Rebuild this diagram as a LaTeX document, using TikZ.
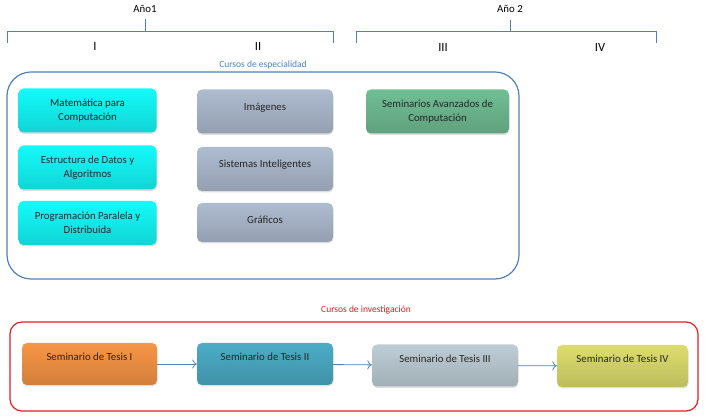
\documentclass[tikz,border=0pt]{standalone}
\usepackage{fontspec}
\setmainfont{Carlito}
\usetikzlibrary{arrows.meta, positioning, shadows}

\definecolor{marco}{RGB}{79,129,189}
\definecolor{rojo}{RGB}{225,30,35}
\definecolor{cian}{RGB}{20,250,250}
\definecolor{gris}{RGB}{174,188,208}
\definecolor{verde}{RGB}{112,190,148}
\definecolor{naranja}{RGB}{247,150,70}
\definecolor{azul}{RGB}{75,172,198}
\definecolor{grisclaro}{RGB}{190,206,214}
\definecolor{amarillo}{RGB}{221,221,110}

\tikzset{
  caja/.style={rounded corners=5pt, align=center, inner sep=2pt,
    top color=#1, middle color=#1, bottom color=#1!85!black,
    drop shadow={opacity=0.25, shadow xshift=0.5pt, shadow yshift=-1.5pt},
    minimum width=138pt, minimum height=44pt, text=black!85},
  tesis/.style={caja=#1, minimum width=136pt, minimum height=42pt, text depth=14pt},
  flecha/.style={marco, thick, -{To[length=4.5pt,width=9pt]}},
  llave/.style={marco, thick},
}

\begin{document}
\begin{tikzpicture}[x=1pt, y=-1pt, font=\fontsize{10.8}{14}\selectfont]
  \useasboundingbox (0,0) rectangle (710,419);

  % years
  \begin{scope}[llave]
    \draw (7,43) -- (7,31) -- (333,31) -- (333,43);
    \draw (145,31) -- (145,19);
    \draw (356,43) -- (356,31) -- (656,31) -- (656,43);
    \draw (510,31) -- (510,20);
  \end{scope}
  \node (anio1) at (145,9) {Año1};
  \node (anio2) at (510,9) {Año 2};
  \node[font=\fontsize{12.5}{14}\selectfont] (s1) at (95,46) {I};
  \node[font=\fontsize{12.5}{14}\selectfont] (s2) at (258,46) {II};
  \node[font=\fontsize{12.5}{14}\selectfont] (s3) at (443,47) {III};
  \node[font=\fontsize{12.5}{14}\selectfont] (s4) at (600,47) {IV};

  % cursos de especialidad
  \draw[marco, line width=1.2pt, rounded corners=24pt] (7,72) rectangle (519,279);
  \node[text=marco, font=\fontsize{9.5}{11}\selectfont] (esp) at (263,65) {Cursos de especialidad};

  \node[caja=cian] (mat) at (87.5,110.5) {Matemática para\\Computación};
  \node[caja=cian] (est) at (87.5,167.5) {Estructura de Datos y\\Algoritmos};
  \node[caja=cian] (prog) at (87.5,223) {Programación Paralela y\\Distribuida};

  \node[caja=gris, minimum width=136pt, text depth=10pt] (img) at (265,111.5) {Imágenes};
  \node[caja=gris, minimum width=136pt, text depth=10pt] (sis) at (265,169) {Sistemas Inteligentes};
  \node[caja=gris, minimum width=136pt, minimum height=39pt, text depth=6pt] (graf) at (265,222.5) {Gráficos};

  \node[caja=verde, minimum width=143pt] (sem) at (437.5,111.5) {Seminarios Avanzados de\\Computación};

  % cursos de investigacion
  \draw[rojo, line width=1.2pt, rounded corners=12pt] (10,322) rectangle (698,411);
  \node[text=rojo, font=\fontsize{9.5}{11}\selectfont] (inv) at (366,310) {Cursos de investigación};

  \node[tesis=naranja, minimum width=135pt] (t1) at (89.5,364) {Seminario de Tesis I};
  \node[tesis=azul] (t2) at (265,364) {Seminario de Tesis II};
  \node[tesis=grisclaro, minimum width=146pt] (t3) at (445,365.5) {Seminario de Tesis III};
  \node[tesis=amarillo, minimum width=131pt] (t4) at (622.5,366) {Seminario de Tesis IV};

  \draw[flecha] (t1) -- (t2);
  \draw[flecha] (t2) -- (t3);
  \draw[flecha] (t3) -- (t4);
\end{tikzpicture}
\end{document}
